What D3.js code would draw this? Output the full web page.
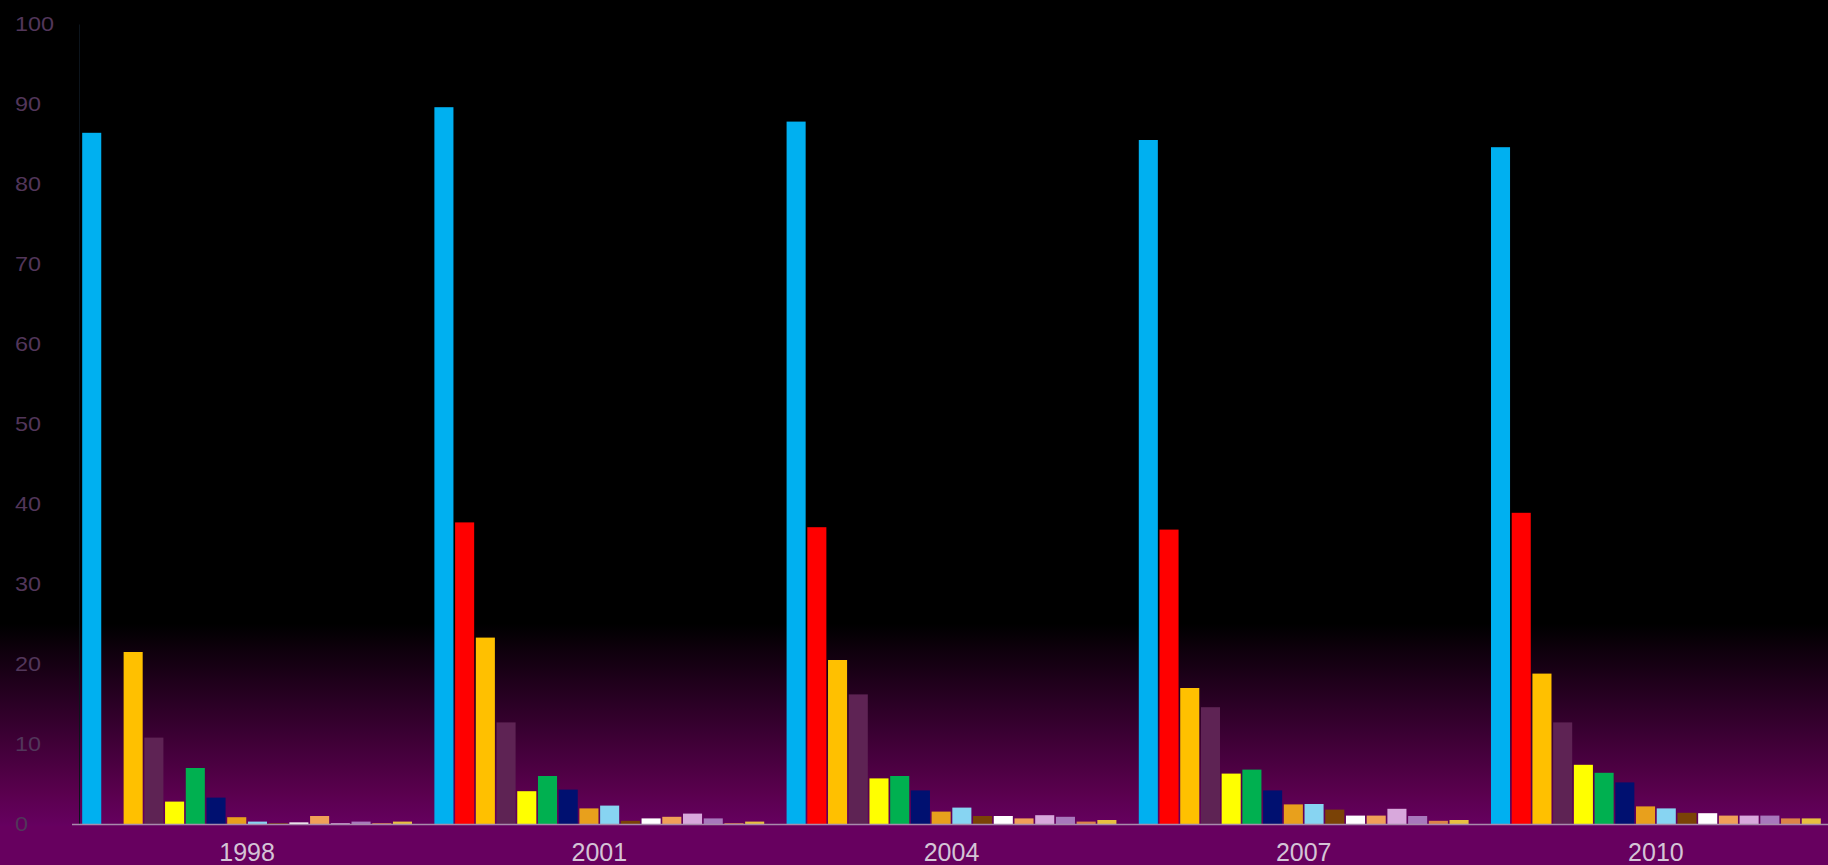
<!DOCTYPE html>
<html>
<head>
<meta charset="utf-8">
<script src="https://cdn.jsdelivr.net/npm/d3@7"></script>
<style>
  html, body { margin: 0; padding: 0; background: #000; overflow: hidden; }
  svg { display: block; }
</style>
</head>
<body>
<svg id="chart" width="1828" height="865"></svg>
<script>
// ---- data ----
const years = ["1998", "2001", "2004", "2007", "2010"];
const yTicks = [0, 10, 20, 30, 40, 50, 60, 70, 80, 90, 100];

const s01 = [86.4, 89.6, 87.8, 85.5, 84.6];
const s02 = [0, 37.7, 37.1, 36.8, 38.9];
const s03 = [21.5, 23.3, 20.5, 17.0, 18.8];
const s04 = [10.8, 12.7, 16.2, 14.6, 12.7];
const s05 = [2.8, 4.1, 5.7, 6.3, 7.4];
const s06 = [7.0, 6.0, 6.0, 6.8, 6.4];
const s07 = [3.3, 4.3, 4.2, 4.2, 5.2];
const s08 = [0.85, 1.95, 1.55, 2.45, 2.2];
const s09 = [0.3, 2.3, 2.05, 2.5, 1.95];
const s10 = [0.1, 0.4, 1.0, 1.8, 1.4];
const s11 = [0.2, 0.7, 1.0, 1.05, 1.35];
const s12 = [1.0, 0.9, 0.7, 1.05, 1.05];
const s13 = [0.1, 1.3, 1.1, 1.9, 1.05];
const s14 = [0.3, 0.7, 0.9, 1.0, 1.05];
const s15 = [0.1, 0.1, 0.3, 0.4, 0.7];
const s16 = [0.3, 0.3, 0.5, 0.5, 0.7];

const seriesValues = [s01, s02, s03, s04, s05, s06, s07, s08, s09, s10, s11, s12, s13, s14, s15, s16];
const seriesNames = seriesValues.map((_, i) => "S" + (i + 1));
const seriesColors = ["#00B0F0", "#FF0000", "#FFC000", "#5E2354", "#FFFF00", "#00B050", "#001070", "#E8A01C",
                      "#87D4F2", "#7A4206", "#FFFFFF", "#F0A058", "#D8A8DC", "#A878BC", "#DC8448", "#E8C040"];

// ---- layout ----
const W = 1828, H = 865;
const svg = d3.select("#chart");

const defs = svg.append("defs");
const grad = defs.append("linearGradient").attr("id", "bg").attr("x1", 0).attr("y1", 0).attr("x2", 0).attr("y2", 1);
grad.append("stop").attr("offset", "0%").attr("stop-color", "#000000");
grad.append("stop").attr("offset", "75.5%").attr("stop-color", "#000000");
grad.append("stop").attr("offset", "96%").attr("stop-color", "#5a004e");
grad.append("stop").attr("offset", "100%").attr("stop-color", "#660060");

svg.append("rect").attr("width", W).attr("height", H).attr("fill", "#67005f");
svg.append("rect").attr("width", W).attr("height", 826).attr("fill", "url(#bg)");

const x0 = d3.scaleBand().domain(years).range([71, 1832]).paddingInner(0).paddingOuter(0);
const x1 = d3.scaleBand().domain(seriesNames).range([0, x0.bandwidth()]).paddingInner(0.08).paddingOuter(0.54);
const y = d3.scaleLinear().domain([0, 100]).range([824, 24]);

// y axis
const yAxis = svg.append("g").attr("transform", "translate(79,0)")
  .call(d3.axisLeft(y).tickValues(yTicks).tickSize(0).tickPadding(0));
yAxis.select(".domain").attr("stroke", "#0c141c").attr("stroke-width", 1);
yAxis.selectAll("text")
  .attr("text-anchor", "start")
  .attr("x", -64)
  .attr("fill", "#52365a")
  .style("font-family", "'Liberation Sans', Arial, sans-serif")
  .style("font-size", "21px")
  .attr("textLength", d => String(d).length * 13)
  .attr("lengthAdjust", "spacingAndGlyphs");

// bars
const groups = svg.append("g").selectAll("g")
  .data(years)
  .join("g")
  .attr("transform", d => `translate(${x0(d)},0)`);

groups.selectAll("rect")
  .data((yr, yi) => seriesValues.map((vals, si) => ({ name: seriesNames[si], v: vals[yi], c: seriesColors[si] })))
  .join("rect")
  .attr("x", d => x1(d.name))
  .attr("width", x1.bandwidth())
  .attr("y", d => y(d.v))
  .attr("height", d => y(0) - y(d.v))
  .attr("fill", d => d.c);

// x axis
const xAxis = svg.append("g").attr("transform", "translate(0,824)")
  .call(d3.axisBottom(x0).tickSize(0).tickPadding(19));
xAxis.select(".domain").remove();
svg.append("line").attr("x1", 72).attr("x2", W).attr("y1", 824.5).attr("y2", 824.5)
  .attr("stroke", "#a88aac").attr("stroke-width", 1.5);
xAxis.selectAll("text")
  .attr("fill", "#d4c4d6")
  .style("font-family", "'Liberation Sans', Arial, sans-serif")
  .style("font-size", "25px");
</script>
</body>
</html>
